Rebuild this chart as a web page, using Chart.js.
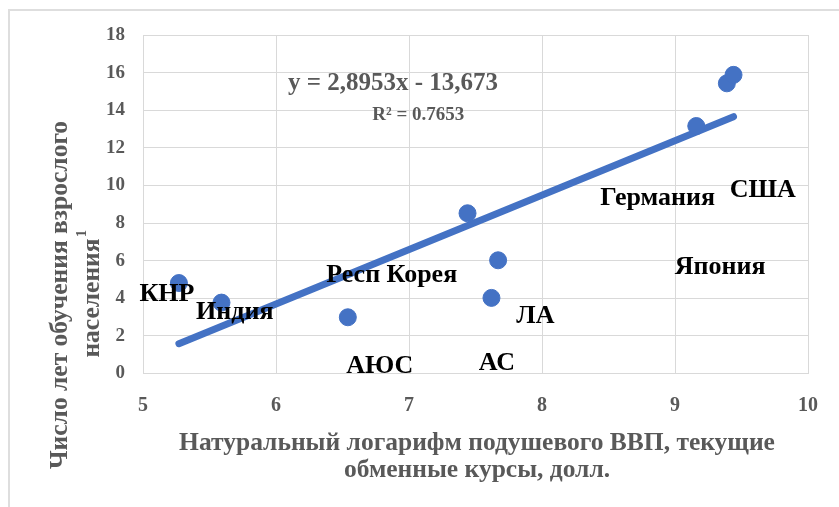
<!DOCTYPE html>
<html lang="ru">
<head>
<meta charset="utf-8">
<script src="https://cdn.jsdelivr.net/npm/chart.js@4/dist/chart.umd.min.js"></script>
<style>
  html, body { margin: 0; padding: 0; background: #ffffff; }
  #wrap { width: 839px; height: 507px; position: relative; }
</style>
</head>
<body>
<div id="wrap"><canvas id="c" width="839" height="507"></canvas></div>
<script>
// Log of GDP per capita (x) vs. mean years of schooling of adults (y)
const gdpLog = [5.27, 5.59, 6.54, 7.44, 7.67, 7.62, 9.16, 9.39, 9.44];
const schoolYears = [4.81, 3.77, 2.99, 8.52, 6.02, 4.02, 13.16, 15.43, 15.88];

// Linear trend fitted to the points
const trendSlope = 2.8953;
const trendIntercept = -13.673;
const trendR2 = 0.7653;

// Region names and where each name sits, in axis units
const regionNames = ['КНР', 'Индия', 'Респ Корея', 'АЮС', 'АС', 'ЛА', 'Япония', 'Германия', 'США'];
const regionNameX = [5.18, 5.69, 6.87, 6.78, 7.66, 7.95, 9.34, 8.87, 9.66];
const regionNameY = [4.22, 3.23, 5.24, 0.41, 0.54, 3.02, 5.63, 9.34, 9.76];

const xTicks = [5, 6, 7, 8, 9, 10];
const yTicks = [0, 2, 4, 6, 8, 10, 12, 14, 16, 18];

const xTitle = ['Натуральный логарифм подушевого ВВП, текущие', 'обменные курсы, долл.'];
const yTitle = ['Число лет обучения взрослого', 'населения'];

const BLUE = '#4472C4';
const GREY = '#595959';
const SERIF = '"Liberation Serif", "Times New Roman", serif';

const fmt = (v, d) => v.toFixed(d).replace('.', ',');
const eqText = 'y = ' + fmt(trendSlope, 4) + 'x ' + (trendIntercept < 0 ? '- ' : '+ ') + fmt(Math.abs(trendIntercept), 3);
const r2Text = 'R² = ' + trendR2.toFixed(4);

const xMin = Math.min(...gdpLog), xMax = Math.max(...gdpLog);
const trendPoints = [xMin, xMax].map(x => ({ x, y: trendSlope * x + trendIntercept }));
const points = gdpLog.map((x, i) => ({ x, y: schoolYears[i] }));

// Light outer frame of the chart block
const framePlugin = {
  id: 'frame',
  beforeDraw(chart) {
    const ctx = chart.ctx;
    ctx.save();
    ctx.strokeStyle = '#dedede';
    ctx.lineWidth = 2;
    ctx.beginPath();
    ctx.moveTo(9, 507);
    ctx.lineTo(9, 10);
    ctx.lineTo(839, 10);
    ctx.stroke();
    ctx.restore();
  }
};

// Trend equation, region names and axis titles
const textPlugin = {
  id: 'texts',
  afterDatasetsDraw(chart) {
    const ctx = chart.ctx;
    const xs = chart.scales.x, ys = chart.scales.y;
    ctx.save();
    ctx.textAlign = 'center';
    ctx.textBaseline = 'middle';

    // trend equation
    ctx.fillStyle = GREY;
    ctx.font = 'bold 25px ' + SERIF;
    ctx.fillText(eqText, xs.getPixelForValue(6.88), ys.getPixelForValue(15.43));
    ctx.font = 'bold 19px ' + SERIF;
    ctx.fillText(r2Text, xs.getPixelForValue(7.07), ys.getPixelForValue(13.74));

    // region names
    ctx.fillStyle = '#000000';
    ctx.font = 'bold 26px ' + SERIF;
    regionNames.forEach((name, i) => {
      ctx.fillText(name, xs.getPixelForValue(regionNameX[i]), ys.getPixelForValue(regionNameY[i]));
    });

    // x axis title
    ctx.fillStyle = GREY;
    ctx.font = 'bold 25.5px ' + SERIF;
    ctx.fillText(xTitle[0], 477, 443);
    ctx.fillText(xTitle[1], 477, 470);

    // y axis title (rotated)
    ctx.translate(60, 295);
    ctx.rotate(-Math.PI / 2);
    ctx.font = 'bold 25.5px ' + SERIF;
    ctx.fillText(yTitle[0], 0, 0);
    const w = ctx.measureText(yTitle[1]).width;
    ctx.fillText(yTitle[1], -3, 32);
    ctx.font = 'bold 14px ' + SERIF;
    ctx.fillText('1', -3 + w / 2 + 5, 22);
    ctx.restore();
  }
};

new Chart(document.getElementById('c'), {
  type: 'scatter',
  data: {
    datasets: [
      {
        type: 'line',
        data: trendPoints,
        borderColor: BLUE,
        borderWidth: 7,
        borderCapStyle: 'round',
        pointRadius: 0,
        fill: false,
        order: 2
      },
      {
        data: points,
        backgroundColor: BLUE,
        borderColor: BLUE,
        pointRadius: 8.5,
        pointHoverRadius: 8.5,
        order: 1
      }
    ]
  },
  options: {
    responsive: false,
    animation: false,
    events: [],
    layout: { padding: { top: 35, right: 31, left: 0, bottom: 0 } },
    plugins: { legend: { display: false }, tooltip: { enabled: false } },
    scales: {
      x: {
        type: 'linear',
        min: 5, max: 10,
        afterBuildTicks(s) { s.ticks = xTicks.map(v => ({ value: v })); },
        afterFit(s) { s.height = 133.5; },
        grid: { color: '#d9d9d9', lineWidth: 1, drawTicks: false },
        border: { color: '#d9d9d9' },
        ticks: { padding: 20, color: GREY, font: { family: SERIF, size: 20, weight: 'bold' } }
      },
      y: {
        type: 'linear',
        min: 0, max: 18,
        afterBuildTicks(s) { s.ticks = yTicks.map(v => ({ value: v })); },
        afterFit(s) { s.width = 143; },
        grid: { color: '#d9d9d9', lineWidth: 1, drawTicks: false },
        border: { color: '#d9d9d9' },
        ticks: { padding: 18, color: GREY, font: { family: SERIF, size: 19, weight: 'bold' } }
      }
    }
  },
  plugins: [framePlugin, textPlugin]
});
</script>
</body>
</html>
